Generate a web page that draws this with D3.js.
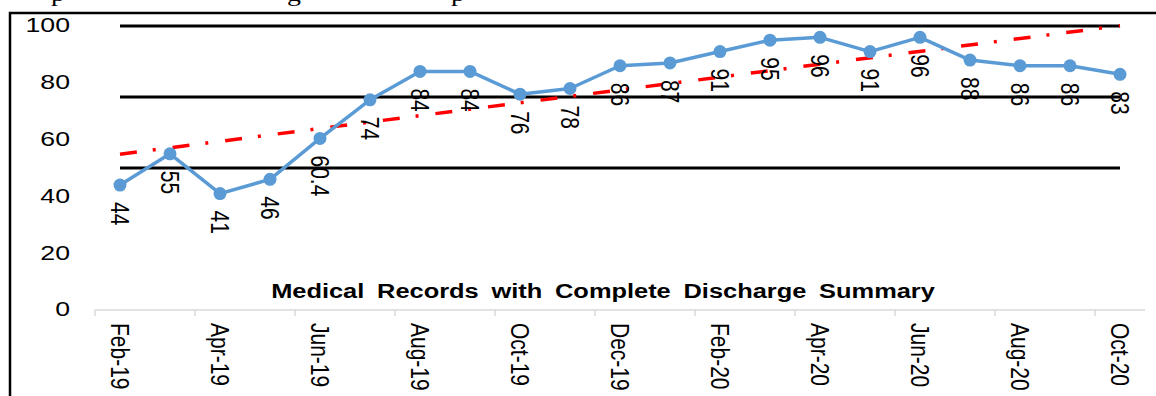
<!DOCTYPE html>
<html>
<head>
<meta charset="utf-8">
<script src="https://cdn.jsdelivr.net/npm/d3@7"></script>
<style>
  html, body { margin: 0; padding: 0; background: #fff; overflow: hidden; }
  svg { display: block; }
  text { font-family: "Liberation Sans", Arial, sans-serif; fill: #000; }
</style>
</head>
<body>
<svg id="chart" width="1156" height="396"></svg>
<script>
// Monthly share of medical records with a complete discharge summary (%)
const months = ["Feb-19","Mar-19","Apr-19","May-19","Jun-19","Jul-19","Aug-19","Sep-19",
                "Oct-19","Nov-19","Dec-19","Jan-20","Feb-20","Mar-20","Apr-20","May-20",
                "Jun-20","Jul-20","Aug-20","Sep-20","Oct-20"];
const compliance = [44, 55, 41, 46, 60.4, 74, 84, 84, 76, 78, 86, 87, 91, 95, 96, 91, 96, 88, 86, 86, 83];
const dataLabels = ["44","55","41","46","60.4","74","84","84","76","78","86","87","91","95","96","91","96","88","86","86","83"];
// Reference levels drawn as solid black bands across the plot
const targetLevels = [100, 75, 50];
const yTicks = [0, 20, 40, 60, 80, 100];
const xTickLabels = ["Feb-19","Apr-19","Jun-19","Aug-19","Oct-19","Dec-19","Feb-20","Apr-20","Jun-20","Aug-20","Oct-20"];
const chartTitle = "Medical Records with Complete Discharge Summary";
// Descenders of the caption line running above the frame
const captionGlyphs = ["p", "g", "p"];

const SX = 1.27; // horizontal glyph stretch of the text
const svg = d3.select("#chart");

const x = d3.scaleBand().domain(months).range([95, 1145]).padding(0);
const cx = m => x(m) + x.bandwidth() / 2;
const y = d3.scaleLinear().domain([0, 100]).range([310, 26]);

// caption fragments above the frame
const glyphX = [51, 287, 451];
svg.selectAll("text.cap").data(captionGlyphs).join("text")
  .attr("class", "cap")
  .attr("transform", (d, i) => `translate(${glyphX[i]},0.5) scale(${SX},1)`)
  .style("font-family", "'Liberation Serif', 'Times New Roman', serif")
  .style("font-size", "22px")
  .text(d => d);

// frame around the figure
svg.append("path")
  .attr("d", "M1160,13 H10 V400")
  .attr("fill", "none").attr("stroke", "#000").attr("stroke-width", 2.5);

// y tick labels
svg.selectAll("text.ytick").data(yTicks).join("text")
  .attr("class", "ytick")
  .attr("transform", d => `translate(70,${y(d) - 1}) scale(${SX},1)`)
  .attr("text-anchor", "end")
  .attr("dy", "0.35em")
  .style("font-size", "21px")
  .text(d => d);

// category axis line and tick marks
const axisG = svg.append("g").attr("transform", `translate(0,${y(0)})`);
axisG.append("line")
  .attr("x1", x.range()[0]).attr("x2", x.range()[1])
  .attr("stroke", "#d9d9d9").attr("stroke-width", 1.5);
axisG.selectAll("line.tk").data(xTickLabels).join("line")
  .attr("class", "tk")
  .attr("x1", d => x(d)).attr("x2", d => x(d))
  .attr("y1", 0).attr("y2", 6)
  .attr("stroke", "#d9d9d9").attr("stroke-width", 1.5);

// rotated month labels
svg.selectAll("text.xtick").data(xTickLabels).join("text")
  .attr("class", "xtick")
  .attr("transform", d => `translate(${cx(d)},323) scale(${SX},1) rotate(90)`)
  .attr("dominant-baseline", "central")
  .style("font-size", "21px")
  .text(d => d);

// chart title inside plot
svg.append("text")
  .attr("transform", `translate(603,298) scale(${SX},1)`)
  .attr("text-anchor", "middle")
  .style("font-size", "20px")
  .style("font-weight", "bold")
  .style("word-spacing", "4.5px")
  .text(chartTitle);

// reference level lines
const first = months[0], last = months[months.length - 1];
svg.selectAll("line.target").data(targetLevels).join("line")
  .attr("class", "target")
  .attr("x1", cx(first)).attr("x2", cx(last))
  .attr("y1", d => y(d)).attr("y2", d => y(d))
  .attr("stroke", "#000").attr("stroke-width", 3);

// linear trend of the monthly values
const idx = d3.range(compliance.length);
const mx = d3.mean(idx), my = d3.mean(compliance);
const slope = d3.sum(idx, i => (i - mx) * (compliance[i] - my)) / d3.sum(idx, i => (i - mx) ** 2);
const icpt = my - slope * mx;
svg.append("line")
  .attr("x1", cx(first)).attr("y1", y(icpt))
  .attr("x2", cx(last)).attr("y2", y(icpt + slope * (compliance.length - 1)))
  .attr("stroke", "#ff0000").attr("stroke-width", 3.5)
  .attr("stroke-dasharray", "17,16,3,17");

// monthly series
const pts = months.map((m, i) => ({ m, v: compliance[i], lab: dataLabels[i] }));
svg.append("path").datum(pts)
  .attr("fill", "none").attr("stroke", "#5b9bd5").attr("stroke-width", 3.5)
  .attr("stroke-linejoin", "round")
  .attr("d", d3.line().x(d => cx(d.m)).y(d => y(d.v)));
svg.selectAll("circle.pt").data(pts).join("circle")
  .attr("class", "pt")
  .attr("cx", d => cx(d.m)).attr("cy", d => y(d.v))
  .attr("r", 6.5).attr("fill", "#5b9bd5");

// value labels below each point
svg.selectAll("text.val").data(pts).join("text")
  .attr("class", "val")
  .attr("transform", d => `translate(${cx(d.m)},${y(d.v) + 17}) scale(${SX},1) rotate(90)`)
  .attr("dominant-baseline", "central")
  .style("font-size", "21px")
  .text(d => d.lab);
</script>
</body>
</html>
